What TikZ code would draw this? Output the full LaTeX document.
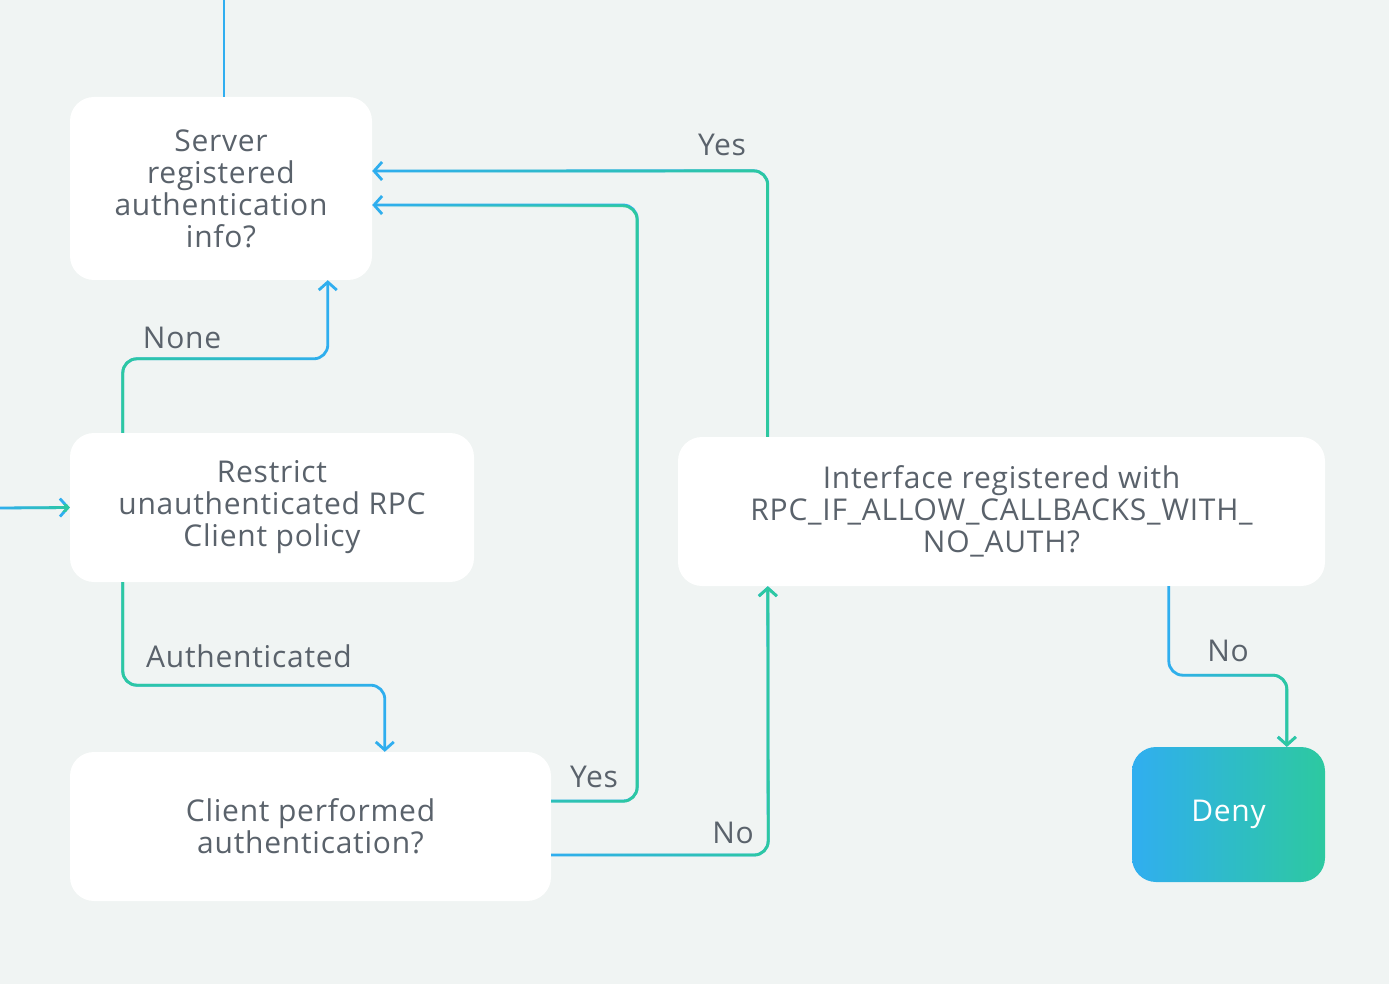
\documentclass[tikz,border=0pt]{standalone}
\usepackage{fontspec}
\setmainfont[LetterSpace=2.5]{Open Sans}
\usetikzlibrary{arrows.meta,calc,fadings}
\definecolor{bgC}{HTML}{F0F4F3}
\definecolor{blueC}{HTML}{30AEF0}
\definecolor{greenC}{HTML}{2DC9A0}
\definecolor{txtC}{HTML}{5A626B}
\tikzfading[name=fadeR, left color=transparent!100, right color=transparent!0]
\tikzfading[name=fadeL, left color=transparent!0, right color=transparent!100]
\begin{document}
\begin{tikzpicture}[x=1pt,y=-1pt,
  box/.style={fill=white, rounded corners=24pt, align=center, text=txtC,
    font=\fontsize{30}{32}\selectfont, inner sep=0pt},
  conn/.style={line width=2.8pt, rounded corners=14pt, -{Straight Barb[length=8pt,width=18pt]}},
  gR/.style={draw=blueC, postaction={draw=greenC, path fading=fadeR}},
  gL/.style={draw=blueC, postaction={draw=greenC, path fading=fadeL}},
  lbl/.style={text=txtC, font=\fontsize{30}{32}\selectfont, inner sep=0pt}]
\fill[bgC] (0,0) rectangle (1389,984);
\useasboundingbox (0,0) rectangle (1389,984);

\node[box, minimum width=302pt, minimum height=183pt] (server) at (221,188.5)
  {Server\\registered\\authentication\\info?};
\node[box, minimum width=404pt, minimum height=149pt] (restrict) at (272,507.5)
  {Restrict\\unauthenticated RPC\\Client policy};
\node[box, minimum width=481pt, minimum height=149pt] (client) at (310.5,826.5)
  {Client performed\\authentication?};
\node[box, minimum width=647pt, minimum height=149pt] (iface) at (1001.5,511.5)
  {Interface registered with\\RPC\_IF\_ALLOW\_CALLBACKS\_WITH\_\\NO\_AUTH?};
\node[box, minimum width=193pt, minimum height=135pt, left color=blueC, right color=greenC, text=white] (deny) at (1228.5,814.5) {Deny};

\coordinate (topC) at (224,0);
\coordinate (inL) at (0,508);

\draw[line width=2.8pt, blueC] (topC) -- (topC |- server.north);
\draw[conn, gR] (inL) -- (restrict.west);
\draw[conn, gL] ($(restrict.north west)+(53,0)$) -- ++(0,-74) -- ++(205,0) -- ($(server.south west)+(258,0)$);
\draw[conn, gL] ($(restrict.south west)+(53,0)$) -- ++(0,103) -- ++(262,0) -- ($(client.north west)+(315,0)$);
\draw[conn, gR] ($(client.east)+(0,-25.5)$) -- ++(86,0) -- ++(0,-596) -- ($(server.east)+(0,16.5)$);
\draw[conn, gR] ($(client.east)+(0,28.5)$) -- ++(217,0) -- ($(iface.south west)+(90,0)$);
\draw[conn, gR] ($(iface.north west)+(90,0)$) -- ++(0,-266) -- ($(server.east)+(0,-17.5)$);
\draw[conn, gR] ($(iface.south west)+(491,0)$) -- ++(0,89) -- ++(118,0) -- ($(deny.north west)+(155,0)$);

\node[lbl] (lNone) at (182,338) {None};
\node[lbl] (lAuth) at (249,656) {Authenticated};
\node[lbl] (lYes1) at (594,777) {Yes};
\node[lbl] (lNo1) at (733,833) {No};
\node[lbl] (lYes2) at (722,145) {Yes};
\node[lbl] (lNo2) at (1228,651) {No};
\end{tikzpicture}
\end{document}
